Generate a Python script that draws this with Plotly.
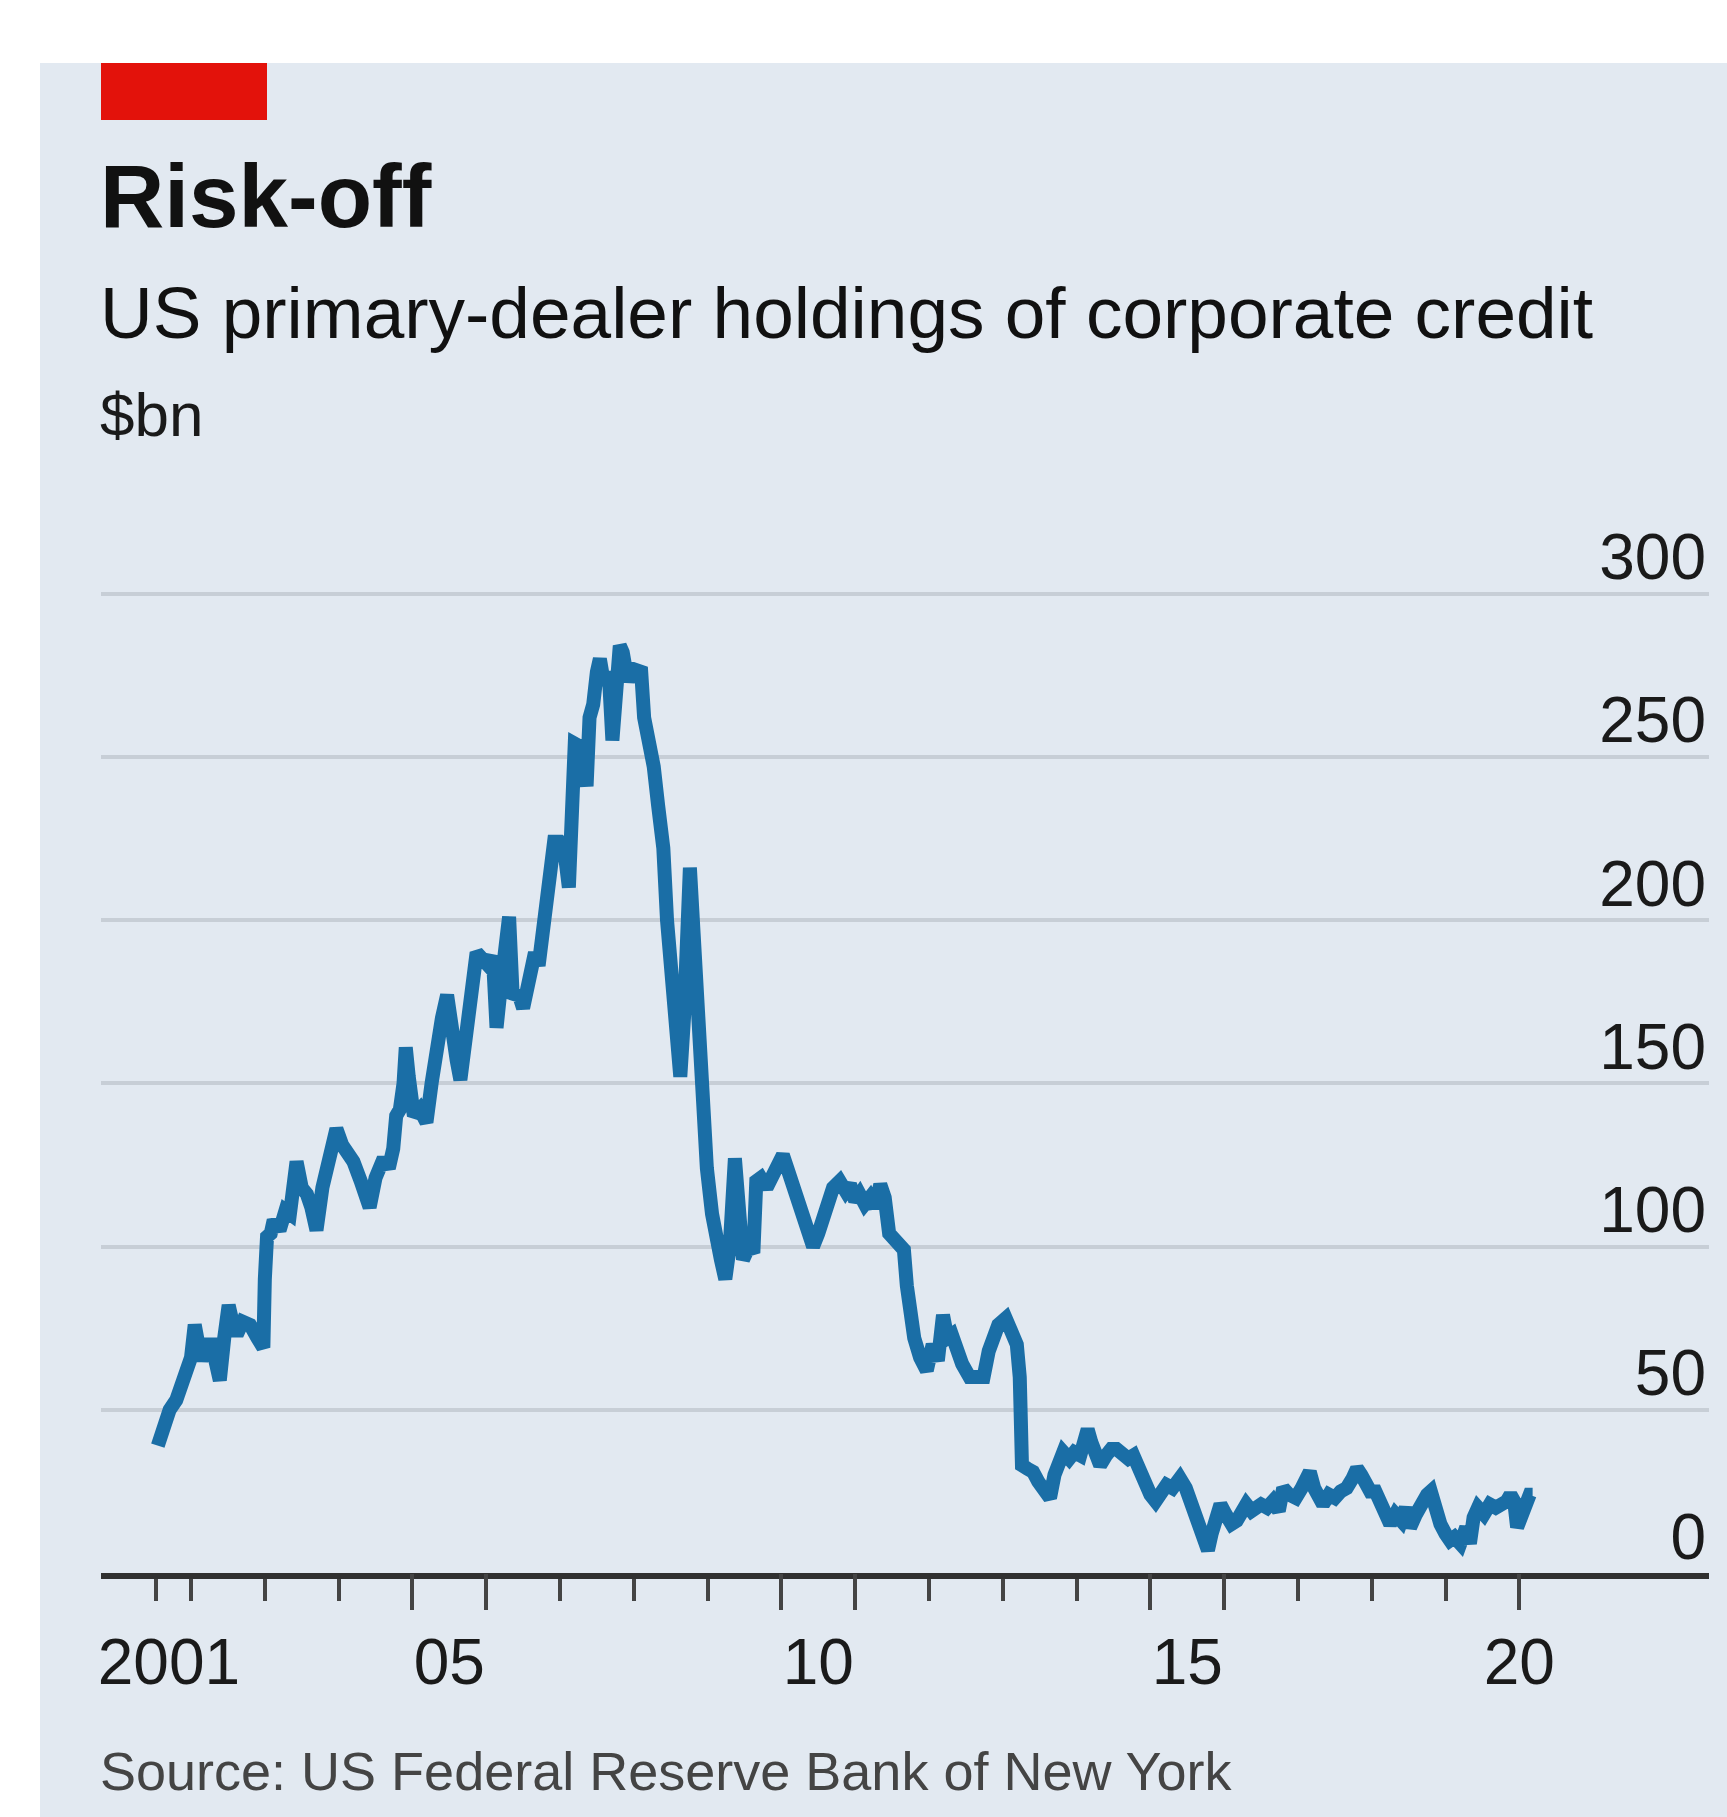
import plotly.graph_objects as go

# ---------------- data (decimal years, $bn) ----------------
years = [
    2001.55, 2001.62, 2001.71, 2001.80, 2001.88, 2001.94, 2002.00, 2002.05, 2002.10, 2002.14,
    2002.20, 2002.28, 2002.34, 2002.39, 2002.45, 2002.51, 2002.57, 2002.62, 2002.70, 2002.80,
    2002.90, 2002.98, 2003.00, 2003.03, 2003.08, 2003.12, 2003.20, 2003.28, 2003.34, 2003.40,
    2003.43, 2003.50, 2003.57, 2003.63, 2003.70, 2003.78, 2003.85, 2003.92, 2003.97, 2004.05,
    2004.13, 2004.20, 2004.30, 2004.36, 2004.42, 2004.50, 2004.56, 2004.61, 2004.68, 2004.74,
    2004.78, 2004.83, 2004.88, 2004.91, 2004.95, 2005.02, 2005.10, 2005.19, 2005.26, 2005.33,
    2005.40, 2005.47, 2005.53, 2005.60, 2005.65, 2005.72, 2005.80, 2005.87, 2005.95, 2006.03,
    2006.09, 2006.14, 2006.20, 2006.26, 2006.31, 2006.36, 2006.43, 2006.50, 2006.58, 2006.66,
    2006.71, 2006.78, 2006.85, 2006.92, 2007.00, 2007.05, 2007.12, 2007.17, 2007.20, 2007.28,
    2007.36, 2007.40, 2007.45, 2007.50, 2007.54, 2007.60, 2007.66, 2007.71, 2007.76, 2007.81,
    2007.85, 2007.92, 2007.97, 2008.04, 2008.10, 2008.14, 2008.20, 2008.27, 2008.33, 2008.40,
    2008.45, 2008.50, 2008.56, 2008.63, 2008.68, 2008.72, 2008.76, 2008.81, 2008.86, 2008.93,
    2008.99, 2009.06, 2009.12, 2009.18, 2009.24, 2009.30, 2009.37, 2009.42, 2009.48, 2009.56,
    2009.62, 2009.66, 2009.72, 2009.80, 2009.88, 2009.95, 2010.02, 2010.08, 2010.14, 2010.20,
    2010.30, 2010.37, 2010.43, 2010.50, 2010.56, 2010.62, 2010.70, 2010.79, 2010.87, 2010.93,
    2011.00, 2011.06, 2011.13, 2011.20, 2011.27, 2011.34, 2011.40, 2011.46, 2011.52, 2011.60,
    2011.66, 2011.70, 2011.75, 2011.80, 2011.88, 2011.97, 2012.05, 2012.12, 2012.19, 2012.25,
    2012.31, 2012.37, 2012.45, 2012.55, 2012.65, 2012.74, 2012.81, 2012.87, 2012.94, 2013.04,
    2013.10, 2013.19, 2013.23, 2013.26, 2013.33, 2013.41, 2013.48, 2013.56, 2013.64, 2013.70,
    2013.76, 2013.82, 2013.90, 2013.97, 2014.05, 2014.10, 2014.15, 2014.20, 2014.26, 2014.32,
    2014.40, 2014.47, 2014.54, 2014.62, 2014.70, 2014.77, 2014.85, 2014.92, 2015.00, 2015.07,
    2015.14, 2015.22, 2015.30, 2015.40, 2015.48, 2015.55, 2015.62, 2015.68, 2015.73, 2015.78,
    2015.83, 2015.90, 2015.95, 2016.02, 2016.10, 2016.17, 2016.24, 2016.30, 2016.37, 2016.44,
    2016.50, 2016.58, 2016.66, 2016.74, 2016.80, 2016.88, 2016.97, 2017.05, 2017.12, 2017.16,
    2017.22, 2017.28, 2017.34, 2017.42, 2017.50, 2017.58, 2017.66, 2017.74, 2017.80, 2017.86,
    2017.93, 2017.98, 2018.05, 2018.12, 2018.18, 2018.25, 2018.32, 2018.40, 2018.46, 2018.52,
    2018.60, 2018.68, 2018.75, 2018.80, 2018.86, 2018.93, 2019.00, 2019.06, 2019.12, 2019.20,
    2019.28, 2019.33, 2019.38, 2019.44, 2019.52, 2019.60, 2019.68, 2019.76, 2019.83, 2019.88,
    2019.93, 2019.97, 2020.02, 2020.08, 2020.14, 2020.18,
]
holdings = [
    39, 45, 50, 53, 58, 60, 66, 76, 66, 65,
    70, 70, 64, 59, 72, 82, 76, 73, 77, 76,
    72, 69, 90, 103, 104, 108, 105, 111, 110, 122,
    126, 118, 116, 112, 105, 118, 126, 130, 136, 131,
    129, 126, 120, 116, 112, 121, 126, 127, 124, 130,
    140, 142, 150, 161, 152, 140, 142, 138, 150, 165,
    170, 177, 165, 157, 151, 165, 178, 190, 188, 186,
    189, 167, 180, 192, 201, 176, 178, 173, 180, 190,
    186, 200, 213, 224, 224, 223, 210, 240, 254, 253,
    241, 262, 266, 276, 280, 272, 276, 255, 270, 284,
    282, 273, 277, 277, 276, 262, 256, 247, 235, 222,
    200, 185, 170, 152, 170, 195, 216, 196, 172, 145,
    124, 110, 100, 96, 90, 100, 127, 110, 96, 100,
    98, 120, 121, 118, 122, 124, 128, 124, 120, 118,
    110, 104, 100, 104, 108, 112, 118, 120, 117, 119,
    114, 116, 113, 115, 112, 119, 115, 104, 102, 100,
    99, 88, 78, 72, 66, 62, 70, 65, 79, 72,
    73, 68, 64, 60, 60, 60, 68, 73, 76, 78,
    74, 70, 60, 33, 32, 31, 28, 25, 23, 30,
    34, 37, 35, 37, 36, 40, 44, 40, 37, 33,
    36, 38, 38, 37, 35, 36, 31, 27, 24, 22,
    25, 27, 26, 29, 26, 22, 18, 14, 10, 7,
    12, 16, 21, 18, 15, 16, 18, 21, 19, 20,
    21, 20, 22, 19, 26, 24, 23, 26, 29, 31,
    26, 24, 21, 24, 23, 25, 26, 29, 32, 30,
    27, 25, 25, 22, 20, 15, 18, 16, 20, 14,
    18, 22, 24, 25, 19, 15, 12, 10, 11, 9,
    14, 9, 17, 20, 18, 21, 20, 21, 22, 24,
    22, 14, 17, 22, 24, 24,
]

y_ticks = [0, 50, 100, 150, 200, 250, 300]
y_tick_labels = ["0", "50", "100", "150", "200", "250", "300"]
short_ticks = [2001.53, 2002, 2003, 2004, 2007, 2008, 2009, 2012, 2013, 2014,
               2017, 2018, 2019]
long_ticks = [2005, 2006, 2010, 2011, 2015, 2016, 2020]
x_label_pos = [2001.70, 2005.5, 2010.5, 2015.5, 2020.0]
x_labels = ["2001", "05", "10", "15", "20"]
x_range = [2000.78, 2022.57]

title = "Risk-off"
subtitle = "US primary-dealer holdings of corporate credit"
unit = "$bn"
source = "Source: US Federal Reserve Bank of New York"

# ---------------- style ----------------
W, H = 1727, 1817
L, R, T, B = 101, 1709, 480, 1573   # plot area in pixels
PX_PER_UNIT = 3.265                  # vertical pixels per $bn
PANEL = "#e2e9f1"
GRID = "#c7ced6"
AXIS = "#303030"
LINE = "#1a6ea6"
RED = "#e3120b"
FONT = "Liberation Sans, Arial, sans-serif"
y_range = [0, (B - T) / PX_PER_UNIT]


def px_x(px):
    return (px - L) / (R - L)


def px_y(py):
    return (B - py) / (B - T)


fig = go.Figure()
fig.add_trace(go.Scatter(
    x=years, y=holdings, mode="lines",
    line=dict(color=LINE, width=14, shape="linear"),
    showlegend=False, hoverinfo="skip",
))
# helper traces so the overlay axes render
fig.add_trace(go.Scatter(x=[None], y=[None], xaxis="x2", showlegend=False, hoverinfo="skip"))
fig.add_trace(go.Scatter(x=[None], y=[None], xaxis="x3", showlegend=False, hoverinfo="skip"))

common_x = dict(range=x_range, showgrid=False, zeroline=False, fixedrange=True)

fig.update_layout(
    width=W, height=H,
    margin=dict(l=L, r=W - R, t=T, b=H - B, pad=0),
    paper_bgcolor="white",
    plot_bgcolor="rgba(0,0,0,0)",
    showlegend=False,
    xaxis=dict(
        **common_x,
        showline=True, linecolor=AXIS, linewidth=6,
        ticks="outside", tickvals=short_ticks, ticklen=22, tickwidth=4,
        tickcolor="#444444", showticklabels=False,
    ),
    xaxis2=dict(
        **common_x, overlaying="x", anchor="y", side="bottom",
        showline=False, ticks="outside", tickvals=long_ticks, ticklen=36,
        tickwidth=4, tickcolor="#444444", showticklabels=False,
    ),
    xaxis3=dict(
        **common_x, overlaying="x", anchor="y", side="bottom",
        showline=False, ticks="outside", ticklen=30, tickcolor="rgba(0,0,0,0)",
        tickvals=x_label_pos, ticktext=x_labels, showticklabels=True,
        tickfont=dict(family=FONT, size=64, color="#1a1a1a"),
        ticklabelstandoff=3,
    ),
    yaxis=dict(
        range=y_range, side="right", fixedrange=True,
        tickvals=y_ticks, ticktext=y_tick_labels,
        ticks="", ticklabelposition="inside top", ticklabelshift=8,
        tickfont=dict(family=FONT, size=64, color="#1a1a1a"),
        showgrid=True, gridcolor=GRID, gridwidth=4,
        zeroline=False, showline=False,
    ),
    shapes=[
        dict(type="rect", xref="paper", yref="paper", layer="below",
             x0=px_x(40), x1=px_x(W + 5), y0=px_y(H + 5), y1=px_y(63),
             fillcolor=PANEL, line=dict(width=0)),
        dict(type="rect", xref="paper", yref="paper", layer="above",
             x0=px_x(101), x1=px_x(267), y0=px_y(120), y1=px_y(63),
             fillcolor=RED, line=dict(width=0)),
    ],
    annotations=[
        dict(text=f"<b>{title}</b>", xref="paper", yref="paper",
             x=px_x(98), y=px_y(248), xanchor="left", yanchor="bottom",
             showarrow=False, font=dict(family=FONT, size=89, color="#111111")),
        dict(text=subtitle, xref="paper", yref="paper",
             x=px_x(98), y=px_y(355), xanchor="left", yanchor="bottom",
             showarrow=False, font=dict(family=FONT, size=73, color="#111111")),
        dict(text=unit, xref="paper", yref="paper",
             x=px_x(98), y=px_y(451), xanchor="left", yanchor="bottom",
             showarrow=False, font=dict(family=FONT, size=62, color="#1a1a1a")),
        dict(text=source, xref="paper", yref="paper",
             x=px_x(98), y=px_y(1803), xanchor="left", yanchor="bottom",
             showarrow=False, font=dict(family=FONT, size=54, color="#444444")),
    ],
)

fig.write_html(
    "out.html",
    config={"displayModeBar": False, "staticPlot": True},
    post_script="document.body.style.margin='0';",
)
